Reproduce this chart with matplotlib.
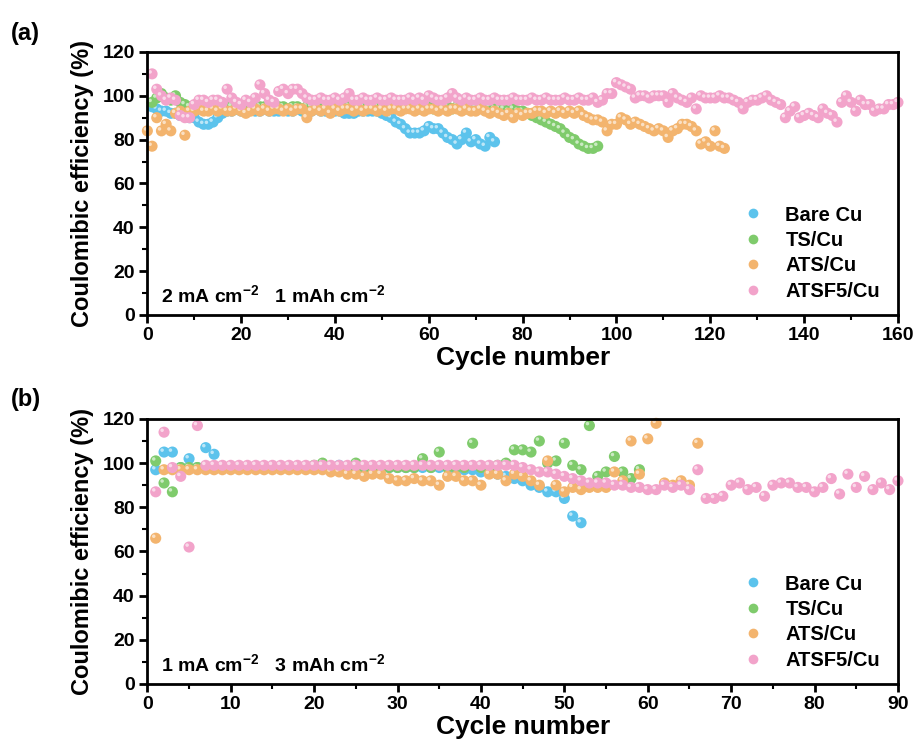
import numpy as np
import matplotlib
matplotlib.use('Agg')
import matplotlib.pyplot as plt
from matplotlib.lines import Line2D
from matplotlib.transforms import offset_copy

plt.rcParams['font.family'] = ['Liberation Sans', 'DejaVu Sans']
plt.rcParams['font.weight'] = 'bold'
plt.rcParams['mathtext.default'] = 'regular'

# ---- data ----
labels = ['Bare Cu', 'TS/Cu', 'ATS/Cu', 'ATSF5/Cu']
colors = ['#5cc3ec', '#7fcb6c', '#f3b46e', '#f2a3ca']

# (a) 2 mA cm-2, 1 mAh cm-2
a_bare = [95, 94, 93, 93, 92, 92, 91, 91, 90, 90,
          88, 87, 87, 88, 90, 92, 93, 93, 94, 93,
          93, 94, 93, 93, 94, 93, 93, 93, 94, 93,
          93, 94, 93, 93, 93, 94, 93, 93, 93, 93,
          93, 92, 92, 92, 93, 93, 93, 93, 93, 92,
          91, 90, 88, 87, 85, 83, 83, 83, 84, 86,
          85, 85, 83, 81, 80, 78, 80, 83, 79, 80,
          78, 77, 81, 79]
a_ts = [97, 99, 101, 99, 98, 100, 97, 96, 95, 95,
        94, 95, 94, 95, 95, 94, 95, 95, 94, 95,
        95, 95, 94, 95, 95, 94, 95, 95, 95, 94,
        95, 95, 94, 95, 95, 95, 94, 95, 95, 94,
        95, 95, 95, 94, 95, 95, 94, 95, 95, 95,
        94, 95, 95, 94, 95, 95, 95, 94, 95, 95,
        94, 95, 95, 95, 94, 95, 95, 94, 95, 95,
        95, 94, 95, 94, 94, 94, 93, 94, 93, 93,
        92, 91, 90, 89, 88, 87, 86, 85, 83, 81,
        80, 78, 77, 76, 76, 77]
a_ats = [84, 77, 90, 84, 87, 84, 92, 93, 82, 93,
         93, 94, 93, 93, 94, 93, 94, 93, 93, 94,
         93, 92, 93, 94, 93, 94, 93, 94, 94, 93,
         94, 93, 94, 94, 90, 93, 94, 93, 94, 92,
         94, 93, 94, 94, 93, 94, 93, 94, 94, 93,
         94, 93, 94, 94, 93, 94, 94, 93, 94, 93,
         94, 94, 93, 94, 93, 94, 94, 93, 94, 93,
         93, 94, 93, 92, 93, 92, 91, 92, 90, 92,
         91, 92, 92, 93, 93, 92, 93, 92, 93, 92,
         93, 92, 93, 91, 90, 89, 89, 88, 84, 87,
         87, 90, 89, 87, 88, 87, 86, 85, 84, 85,
         84, 81, 84, 85, 87, 87, 86, 84, 78, 79,
         77, 84, 77, 76]
a_atsf = [110, 103, 100, 98, 99, 98, 91, 90, 90, 96,
          98, 98, 97, 98, 98, 97, 103, 99, 97, 96,
          98, 97, 99, 105, 101, 98, 97, 102, 103, 101,
          103, 103, 101, 99, 98, 98, 99, 98, 98, 99,
          98, 99, 101, 98, 98, 99, 98, 98, 99, 98,
          98, 99, 98, 98, 98, 99, 98, 99, 98, 100,
          99, 98, 98, 99, 101, 99, 98, 99, 98, 98,
          99, 98, 98, 99, 98, 98, 98, 99, 98, 98,
          98, 99, 98, 98, 99, 98, 98, 98, 99, 98,
          98, 99, 98, 98, 99, 97, 98, 101, 101, 106,
          105, 104, 103, 99, 100, 100, 99, 100, 100, 100,
          97, 101, 99, 98, 97, 99, 94, 100, 99, 99,
          99, 100, 99, 99, 98, 97, 94, 97, 98, 98,
          99, 100, 98, 97, 96, 90, 93, 95, 90, 91,
          92, 91, 90, 94, 92, 91, 88, 97, 100, 97,
          93, 98, 96, 96, 93, 94, 94, 96, 96, 97]
a_start = [1, 1, 0, 1]   # first cycle of each series

# (b) 1 mA cm-2, 3 mAh cm-2
b_bare = [97, 105, 105, 98, 102, 98, 107, 104, 98, 98,
          98, 98, 98, 98, 98, 98, 98, 98, 98, 98,
          98, 98, 99, 98, 98, 98, 98, 98, 98, 98,
          98, 98, 98, 98, 98, 98, 97, 97, 97, 96,
          96, 95, 94, 93, 92, 90, 89, 87, 87, 84,
          76, 73]
b_ts = [101, 91, 87, 98, 98, 98, 98, 98, 98, 98,
        98, 98, 98, 98, 98, 98, 98, 98, 98, 99,
        100, 98, 98, 98, 100, 98, 98, 98, 98, 98,
        98, 98, 102, 98, 105, 98, 98, 98, 109, 98,
        98, 99, 100, 106, 106, 105, 110, 100, 101, 109,
        99, 97, 117, 94, 96, 103, 96, 93, 97]
b_ats = [66, 97, 97, 97, 97, 97, 97, 97, 97, 97,
         97, 97, 97, 97, 97, 97, 97, 97, 97, 97,
         97, 96, 96, 95, 95, 94, 95, 95, 93, 92,
         92, 93, 92, 92, 90, 94, 94, 92, 92, 90,
         95, 95, 92, 95, 94, 92, 90, 101, 90, 87,
         89, 88, 89, 89, 89, 96, 92, 110, 95, 111,
         118, 91, 90, 92, 90, 109]
b_atsf = [87, 114, 98, 94, 62, 117, 99, 99, 99, 99,
          99, 99, 99, 99, 99, 99, 99, 99, 99, 99,
          99, 99, 99, 99, 99, 99, 99, 99, 99, 99,
          99, 99, 99, 99, 99, 99, 99, 99, 99, 99,
          99, 99, 99, 99, 98, 97, 96, 96, 95, 94,
          93, 92, 91, 91, 91, 90, 90, 89, 89, 88,
          88, 90, 89, 90, 88, 97, 84, 84, 85, 90,
          91, 88, 89, 85, 90, 91, 91, 89, 89, 87,
          89, 93, 86, 95, 89, 94, 88, 91, 88, 92]
b_start = [1, 1, 1, 1]

fig = plt.figure(figsize=(9.21, 7.42), dpi=100)
ax1 = fig.add_axes([0.160, 0.5755, 0.815, 0.3545])
ax2 = fig.add_axes([0.160, 0.0782, 0.815, 0.3572])


def glossy(ax, x, y, c, s=64):
    ax.scatter(x, y, s=s, color=c, edgecolors='none', zorder=3, clip_on=False)
    tr = offset_copy(ax.transData, fig=fig, x=-1.4, y=1.4, units='points')
    ax.scatter(x, y, s=s * 0.1, color='white', alpha=0.6,
               edgecolors='none', transform=tr, zorder=3, clip_on=False)


def panel(ax, series, starts, xmax, xmaj, xmin_, note):
    for vals, st, c in zip(series, starts, colors):
        cyc = np.arange(st, st + len(vals))
        glossy(ax, cyc, vals, c)
    ax.set_xlim(0, xmax)
    ax.set_ylim(0, 120)
    ax.set_xticks(np.arange(0, xmax + 1, xmaj))
    ax.set_xticks(np.arange(0, xmax + 1, xmin_), minor=True)
    ax.set_yticks(np.arange(0, 121, 20))
    ax.set_yticks(np.arange(0, 121, 10), minor=True)
    ax.tick_params(which='major', length=6, width=2, labelsize=14, pad=3)
    ax.tick_params(which='minor', length=3.5, width=1.5)
    for sp in ax.spines.values():
        sp.set_linewidth(2)
        sp.set_zorder(4)
    ax.set_xlabel('Cycle number', fontsize=19, fontweight='bold', labelpad=1)
    ax.set_ylabel('Coulomibic efficiency (%)', fontsize=17, fontweight='bold',
                  labelpad=6)
    ax.text(0.018, 0.035, note, transform=ax.transAxes, fontsize=14,
            fontweight='bold', ha='left', va='bottom')
    handles = [Line2D([], [], ls='none', marker='o', ms=7, color=c,
                      markeredgewidth=0) for c in colors]
    ax.legend(handles, labels, loc='lower right', frameon=False,
              prop={'weight': 'bold', 'size': 14.5},
              handletextpad=0.6, labelspacing=0.32, borderaxespad=0.3,
              bbox_to_anchor=(0.995, 0.0))


panel(ax1, [a_bare, a_ts, a_ats, a_atsf], a_start, 160, 20, 10,
      r'2 mA cm$^{-2}$   1 mAh cm$^{-2}$')
panel(ax2, [b_bare, b_ts, b_ats, b_atsf], b_start, 90, 10, 5,
      r'1 mA cm$^{-2}$   3 mAh cm$^{-2}$')

fig.text(0.012, 0.955, '(a)', fontsize=17, fontweight='bold', va='center')
fig.text(0.012, 0.461, '(b)', fontsize=17, fontweight='bold', va='center')

fig.savefig('out.png', dpi=100)
